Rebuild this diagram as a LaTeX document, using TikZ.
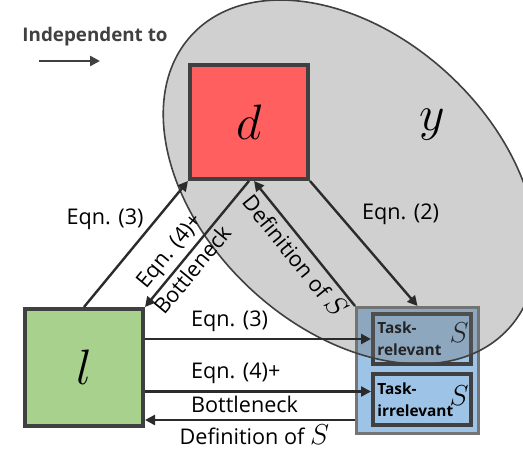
\documentclass[tikz,border=0pt]{standalone}
\usepackage{fontspec}
\setmainfont{Open Sans}
\usepackage{amsmath}
\usetikzlibrary{arrows.meta,positioning,shapes.geometric}
\definecolor{dred}{HTML}{FF5F5F}
\definecolor{lgreen}{HTML}{A9D18E}
\definecolor{sblue}{HTML}{9DC3E6}
\definecolor{boxline}{HTML}{404040}
\definecolor{sline}{HTML}{757575}
\definecolor{regiongray}{HTML}{6F6F6F}
\definecolor{arrowgray}{HTML}{2B2B2B}

\begin{document}
\begin{tikzpicture}[
    x=0.5pt,y=0.5pt,
    box/.style={draw=boxline, line width=2pt, minimum width=59pt, minimum height=57pt,
                inner sep=0pt, font=\fontsize{24.88}{25}\selectfont},
    sbox/.style={draw=sline, line width=1.5pt, fill=sblue, minimum width=61pt,
                 minimum height=63pt, inner sep=0pt},
    part/.style={draw=boxline, line width=2.2pt, fill=sblue, minimum width=48.8pt,
                 minimum height=24.8pt, inner sep=0pt},
    region/.style={ellipse, draw=boxline, line width=0.8pt, fill=regiongray,
                   fill opacity=0.33, minimum width=216pt, minimum height=146pt, inner sep=0pt},
    tasktxt/.style={font=\fontsize{7.7}{11}\selectfont\bfseries, align=left, inner sep=1pt},
    smath/.style={font=\fontsize{14.4}{15}\selectfont, inner sep=0pt},
    lbl/.style={font=\fontsize{10.8}{13}\selectfont, inner sep=1pt},
    arr/.style={-{Triangle[length=5pt,width=5pt]}, line width=1.2pt, draw=arrowgray}
]
\useasboundingbox (0,0) rectangle (523,450);

% Legend
\node[font=\fontsize{9.4}{11}\selectfont\bfseries, text=boxline] (legtxt) at (95,413.5) {Independent to};
\coordinate (legA) at (39,389);
\coordinate (legB) at (100,389);
\draw[arr, draw=boxline] (legA) -- (legB);

% S with its two parts
\node[sbox] (sbox) at (417.5,79.5) {};
\node[part] (rel) at (422,111) {};
\node[part, minimum height=25.3pt] (irr) at (422,50.5) {};
\node[tasktxt, anchor=west] (reltxt) at ([xshift=2pt]rel.west) {Task-\\relevant};
\node[tasktxt, anchor=west] (irrtxt) at ([xshift=2pt]irr.west) {Task-\\irrelevant};
\node[smath] (rels) at ([xshift=-7pt,yshift=3pt]rel.east) {$S$};
\node[smath] (irrs) at ([xshift=-7pt,yshift=2pt]irr.east) {$S$};

% Region of y, overlapping d and part of S
\begin{scope}
\clip (0,0) rectangle (523,450);
\node[region, rotate=-43] (yset) at (350,268) {};
\end{scope}
\node[font=\fontsize{24.88}{25}\selectfont] (ylab) at (432,325) {$y$};

% d and l
\node[box, fill=dred] (d) at (249,328) {$d$};
\node[box, fill=lgreen, minimum height=58.5pt] (l) at (84,82.5) {$l$};

% Arrows between d, l and S
\draw[arr] (l.north) -- node[lbl, pos=0.7, left=5pt] (ldlab) {Eqn. (3)} (d.south west);
\draw[arr] (d.south) -- node[lbl, pos=0.64, sloped, above=1pt] (dla) {Eqn. (4)+}
                        node[lbl, pos=0.64, sloped, below=0.5pt] (dlb) {Bottleneck} (l.north east);
\draw[arr] (sbox.north west) -- node[lbl, pos=0.48, sloped, below=0.5pt] (sdlab)
           {Definition of {\fontsize{14.4}{15}\selectfont$S$}} ([xshift=2.5pt]d.south);
\draw[arr] (d.south east) -- node[lbl, pos=0.27, right=10pt] (dslab) {Eqn. (2)} (sbox.north);

\coordinate (irrin) at ([yshift=4pt]irr.west);
\coordinate (sout) at ([yshift=-24.75pt]sbox.west);
\draw[arr] (rel.west -| l.east) -- node[lbl, pos=0.19, above right=2pt and 0pt] (lrlab) {Eqn. (3)} (rel.west);
\draw[arr] (irrin -| l.east) -- node[lbl, pos=0.19, above right=2.5pt and 0pt] (lia) {Eqn. (4)+}
                               node[lbl, pos=0.19, below right=0.5pt and 0pt] (lib) {Bottleneck} (irrin);
\draw[arr] (sout) -- node[lbl, pos=0.85, below right=1pt and 0pt] (sllab)
           {Definition of {\fontsize{14.4}{15}\selectfont$S$}} (sout -| l.east);
\end{tikzpicture}
\end{document}
